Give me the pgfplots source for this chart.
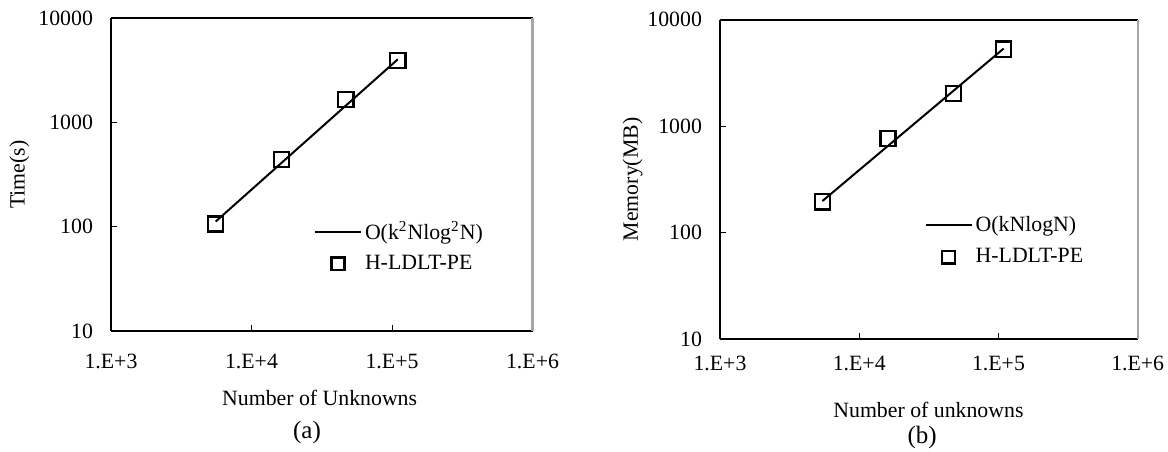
\documentclass[border=0pt]{standalone}
\usepackage{pgfplots}
\pgfplotsset{compat=1.18}
\usepackage{fontspec}
\setmainfont{Liberation Serif}
\pgfplotsset{
  lineplot/.style={black, line width=1pt, mark=none,
    legend image code/.code={\draw[##1] (0pt,0pt) -- (23pt,0pt);}},
  markplot/.style={black, line width=1.2pt, only marks, mark=square, mark size=3.8pt,
    legend image code/.code={\draw[##1, mark size=3.2pt] plot coordinates {(11.5pt,0pt)};}},
}
\begin{document}
\begin{tikzpicture}[font=\fontsize{10.9pt}{12.5pt}\selectfont]
\useasboundingbox (0,0) rectangle (584pt,225.5pt);
% ---------------- (a)
\begin{axis}[
  scale only axis,
  xmode=log, ymode=log,
  xmin=1e3, xmax=1e6, ymin=10, ymax=10000,
  xtick={1e3,1e4,1e5,1e6}, xticklabels={1.E+3,1.E+4,1.E+5,1.E+6},
  ytick={10,100,1000,10000}, yticklabels={10,100,1000,10000},
  xminorticks=false, yminorticks=false,
  tick align=inside, major tick length=3pt,
  tick style={black, line width=0.4pt},
  axis x line*=bottom, axis y line*=left,
  axis line style={black, line width=1pt, -},
  yticklabel style={xshift=-5.5pt},
  clip=false,
  legend cell align=left,
  at={(55.5pt,60pt)}, anchor=south west,
  width=210.75pt, height=156.5pt,
  xticklabel style={yshift=-8pt},
  ylabel={Time(s)},
  ylabel style={at={(axis description cs:-0.2176,0.5)}, anchor=center},
  xlabel={Number of Unknowns},
  xlabel style={at={(axis description cs:0.495,-0.214)}, anchor=center},
  legend style={draw=none, fill=none, inner sep=0pt, outer sep=0pt, row sep=3.2pt,
    nodes={inner sep=1.5pt, anchor=west},
    at={(axis description cs:0.4816,0.268)}, anchor=west},
]
\addplot[lineplot] coordinates {(5560,112) (110000,4020)};
\addlegendentry{O(k\textsuperscript{2}Nlog\textsuperscript{2}N)}
\addplot[markplot] coordinates {(5560,106) (16300,442) (46900,1662) (110000,3900)};
\addlegendentry{H-LDLT-PE}
\draw[black, line width=1pt] (axis description cs:0,1) -- (axis description cs:1,1);
\draw[gray!70, line width=1.2pt] (axis description cs:1,0) -- (axis description cs:1,1);
\node[anchor=center, font=\fontsize{12.5pt}{14pt}\selectfont] at (axis description cs:0.465,-0.323) {(a)};
\end{axis}
% ---------------- (b)
\begin{axis}[
  scale only axis,
  xmode=log, ymode=log,
  xmin=1e3, xmax=1e6, ymin=10, ymax=10000,
  xtick={1e3,1e4,1e5,1e6}, xticklabels={1.E+3,1.E+4,1.E+5,1.E+6},
  ytick={10,100,1000,10000}, yticklabels={10,100,1000,10000},
  xminorticks=false, yminorticks=false,
  tick align=inside, major tick length=3pt,
  tick style={black, line width=0.4pt},
  axis x line*=bottom, axis y line*=left,
  axis line style={black, line width=1pt, -},
  yticklabel style={xshift=-5.5pt},
  clip=false,
  legend cell align=left,
  at={(360pt,56pt)}, anchor=south west,
  width=208.85pt, height=159.65pt,
  xticklabel style={yshift=-5pt},
  ylabel={Memory(MB)},
  ylabel style={at={(axis description cs:-0.209,0.5)}, anchor=center},
  xlabel={Number of unknowns},
  xlabel style={at={(axis description cs:0.499,-0.222)}, anchor=center},
  legend style={draw=none, fill=none, inner sep=0pt, outer sep=0pt, row sep=4.2pt,
    nodes={inner sep=1.5pt, anchor=west},
    at={(axis description cs:0.49,0.307)}, anchor=west},
]
\addplot[lineplot] coordinates {(5440,198) (109000,5360)};
\addlegendentry{O(kNlogN)}
\addplot[markplot] coordinates {(5440,195) (16100,766) (47400,2027) (109000,5280)};
\addlegendentry{H-LDLT-PE}
\draw[black, line width=1pt] (axis description cs:0,1) -- (axis description cs:1,1);
\draw[gray!70, line width=1.2pt] (axis description cs:1,0) -- (axis description cs:1,1);
\node[anchor=center, font=\fontsize{12.5pt}{14pt}\selectfont] at (axis description cs:0.484,-0.310) {(b)};
\end{axis}
\end{tikzpicture}
\end{document}
